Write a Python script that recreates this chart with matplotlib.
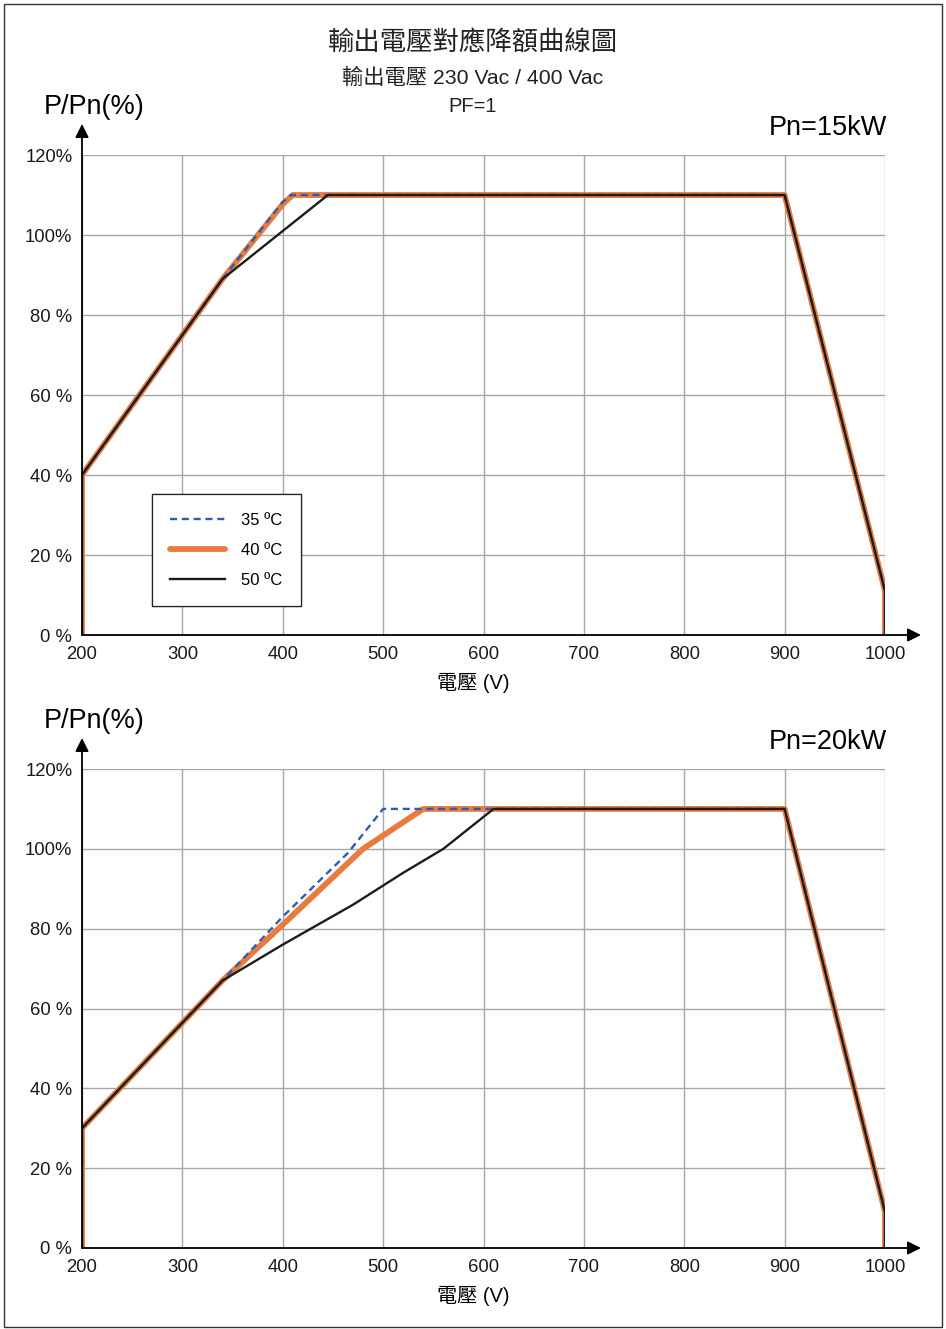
import matplotlib
matplotlib.use("Agg")
import matplotlib.pyplot as plt
from matplotlib.patches import Rectangle

plt.rcParams['font.family'] = ['Liberation Sans', 'Noto Sans CJK TC', 'DejaVu Sans']

# ---------------- data ----------------
title = "輸出電壓對應降額曲線圖"
subtitle = "輸出電壓 230 Vac / 400 Vac"
pf_text = "PF=1"
xlabel = "電壓 (V)"
ylabel = "P/Pn(%)"
legend_labels = ["35 ºC", "40 ºC", "50 ºC"]
x_ticks = [200, 300, 400, 500, 600, 700, 800, 900, 1000]
y_ticks = [0, 20, 40, 60, 80, 100, 120]
y_ticklabels = ["0 %", "20 %", "40 %", "60 %", "80 %", "100%", "120%"]

# Pn = 15 kW
p15_title = "Pn=15kW"
p15_35_v = [200, 200, 340, 399, 408, 900, 1000, 1000]
p15_35_p = [0, 40, 89, 108, 110, 110, 11, 0]
p15_40_v = [200, 200, 340, 401, 410, 900, 1000, 1000]
p15_40_p = [0, 40, 89, 108, 110, 110, 11, 0]
p15_50_v = [200, 200, 340, 400, 445, 900, 1000, 1000]
p15_50_p = [0, 40, 89, 101, 110, 110, 11, 0]

# Pn = 20 kW
p20_title = "Pn=20kW"
p20_35_v = [200, 200, 340, 400, 465, 500, 900, 1000, 1000]
p20_35_p = [0, 30, 67, 83, 99, 110, 110, 9, 0]
p20_40_v = [200, 200, 340, 400, 480, 540, 900, 1000, 1000]
p20_40_p = [0, 30, 67, 81, 100, 110, 110, 9, 0]
p20_50_v = [200, 200, 340, 400, 470, 520, 560, 610, 900, 1000, 1000]
p20_50_p = [0, 30, 67, 76, 86, 94, 100, 110, 110, 9, 0]

# ---------------- style ----------------
W, H = 946, 1329
C_BLUE = "#2E5CB4"
C_ORANGE = "#E97B3E"
C_BLACK = "#1c1c1c"
C_GRID = "#a6a6a6"

fig = plt.figure(figsize=(W / 100, H / 100), dpi=100)


def fx(px):
    return px / W


def fy(py):
    return 1 - py / H


# figure border
fig.patches.append(Rectangle((fx(4), fy(1327)), fx(942) - fx(4), fy(4) - fy(1327),
                             transform=fig.transFigure, fill=False,
                             edgecolor="#333333", linewidth=1.0))


def make_panel(top_px, bottom_px, v35, p35, v40, p40, v50, p50, pn_text):
    left_px, right_px = 82, 885
    ax = fig.add_axes([fx(left_px), fy(bottom_px), fx(right_px) - fx(left_px),
                       fy(top_px) - fy(bottom_px)])
    ax.set_xlim(200, 1000)
    ax.set_ylim(0, 120)
    for s in ax.spines.values():
        s.set_visible(False)
    ax.set_xticks(x_ticks)
    ax.set_yticks(y_ticks)
    ax.set_yticklabels(y_ticklabels)
    ax.tick_params(length=0, labelsize=13.3, colors="#1a1a1a")
    ax.tick_params(axis="x", pad=8)
    ax.tick_params(axis="y", pad=7)
    ax.grid(True, color=C_GRID, linewidth=1.0)
    ax.set_axisbelow(True)

    l40, = ax.plot(v40, p40, color=C_ORANGE, linewidth=4.2, solid_capstyle="round",
                   solid_joinstyle="round", zorder=3)
    l35, = ax.plot(v35, p35, color=C_BLUE, linewidth=1.7, linestyle=(0, (3, 2)),
                   zorder=4)
    l50, = ax.plot(v50, p50, color=C_BLACK, linewidth=1.7, zorder=5)

    h = bottom_px - top_px
    w = right_px - left_px
    # axes arrows
    ax.annotate("", xy=((921 - left_px) / w, 0), xytext=(0, 0),
                xycoords="axes fraction", textcoords="axes fraction",
                arrowprops=dict(arrowstyle="-|>", color="black", lw=1.3,
                                mutation_scale=20, shrinkA=0, shrinkB=0),
                annotation_clip=False, zorder=6)
    ax.annotate("", xy=(0, (bottom_px - (top_px - 31)) / h), xytext=(0, 0),
                xycoords="axes fraction", textcoords="axes fraction",
                arrowprops=dict(arrowstyle="-|>", color="black", lw=1.3,
                                mutation_scale=20, shrinkA=0, shrinkB=0),
                annotation_clip=False, zorder=6)

    leg = ax.legend([l35, l40, l50], legend_labels, loc="lower left",
                    bbox_to_anchor=((152 - left_px) / w, (bottom_px - 606) / h),
                    borderaxespad=0, fancybox=False, framealpha=1,
                    edgecolor="#222222", fontsize=12, handlelength=3.3,
                    handletextpad=0.95, labelspacing=0.9, borderpad=1.1)
    leg.get_frame().set_linewidth(0.9)
    leg.set_zorder(7)

    fig.text(fx(473), fy(bottom_px + 48), xlabel, ha="center", va="center",
             fontsize=14.5)
    fig.text(fx(44), fy(top_px - 48), ylabel, ha="left", va="center", fontsize=19.5)
    fig.text(fx(887), fy(top_px - 27), pn_text, ha="right", va="center", fontsize=19.5)
    return ax


make_panel(155, 635, p15_35_v, p15_35_p, p15_40_v, p15_40_p, p15_50_v, p15_50_p,
           p15_title)
make_panel(769, 1248, p20_35_v, p20_35_p, p20_40_v, p20_40_p, p20_50_v, p20_50_p,
           p20_title)

fig.text(fx(473), fy(42), title, ha="center", va="center", fontsize=19,
         color="#222222")
fig.text(fx(473), fy(78), subtitle, ha="center", va="center", fontsize=15.3,
         color="#222222")
fig.text(fx(473), fy(107), pf_text, ha="center", va="center", fontsize=14.5,
         color="#222222")

fig.savefig("out.png", dpi=100, facecolor="white")
